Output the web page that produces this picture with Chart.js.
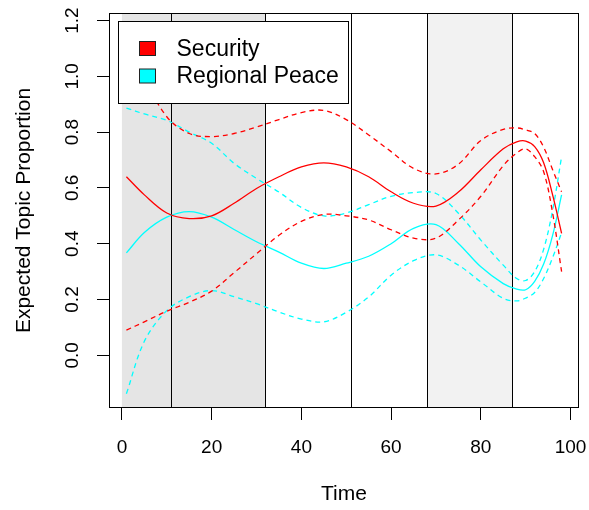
<!DOCTYPE html>
<html>
<head>
<meta charset="utf-8">
<script src="https://cdn.jsdelivr.net/npm/chart.js@4.4.1/dist/chart.umd.min.js"></script>
<style>
  html, body { margin: 0; padding: 0; background: #fff; }
  canvas { display: block; }
</style>
</head>
<body>
<canvas id="chart" width="589" height="510"></canvas>
<script>
// values
const time = [1, 5, 10, 15, 20, 25, 30, 35, 40, 45, 50, 55, 60, 65, 70, 75, 80, 85, 88, 90, 92, 94, 96, 98];

const securityMean  = [0.640, 0.575, 0.510, 0.490, 0.500, 0.545, 0.598, 0.640, 0.675, 0.690, 0.675, 0.640, 0.586, 0.545, 0.535, 0.585, 0.665, 0.740, 0.765, 0.768, 0.748, 0.690, 0.575, 0.437];
const securityUpper = [1.180, 1.000, 0.855, 0.795, 0.784, 0.795, 0.818, 0.845, 0.870, 0.878, 0.845, 0.790, 0.730, 0.670, 0.650, 0.685, 0.770, 0.810, 0.815, 0.808, 0.795, 0.746, 0.665, 0.586];
const securityLower = [0.090, 0.120, 0.158, 0.190, 0.230, 0.296, 0.364, 0.430, 0.480, 0.505, 0.500, 0.485, 0.450, 0.420, 0.420, 0.485, 0.570, 0.680, 0.725, 0.740, 0.712, 0.658, 0.510, 0.300];

const peaceMean  = [0.367, 0.440, 0.495, 0.515, 0.495, 0.451, 0.407, 0.370, 0.330, 0.311, 0.330, 0.355, 0.400, 0.455, 0.468, 0.401, 0.317, 0.257, 0.237, 0.235, 0.265, 0.327, 0.430, 0.575];
const peaceUpper = [0.886, 0.865, 0.842, 0.800, 0.760, 0.688, 0.634, 0.585, 0.530, 0.500, 0.510, 0.540, 0.570, 0.583, 0.580, 0.509, 0.413, 0.323, 0.275, 0.268, 0.300, 0.380, 0.520, 0.712];
const peaceLower = [-0.138, 0.050, 0.160, 0.210, 0.232, 0.210, 0.185, 0.155, 0.130, 0.120, 0.154, 0.209, 0.287, 0.339, 0.360, 0.323, 0.263, 0.204, 0.195, 0.205, 0.225, 0.275, 0.350, 0.440];

const xTicks = [0, 20, 40, 60, 80, 100];
const yTicks = [0, 0.2, 0.4, 0.6, 0.8, 1.0, 1.2];

// period boundaries and shaded periods (in time units)
const periodBreaks = [11, 32, 51, 68, 87];
const shadedSpans = [[0, 32], [68, 87]];

const RED = '#ff0000';
const CYAN = '#00ffff';
const FONT = '"Liberation Sans", Arial, Helvetica, sans-serif';

function series(label, values, color, dashed) {
    return {
        label: label,
        data: values.map((v, i) => ({ x: time[i], y: v })),
        borderColor: color,
        backgroundColor: color,
        borderWidth: 1.3,
        borderDash: dashed ? [5, 4] : [],
        pointRadius: 0,
        fill: false,
        tension: 0.35,
        isBand: dashed
    };
}

// keep the axes from pushing the plot area in for overhanging labels
function noOverhang(s) {
    s.paddingLeft = 0;
    s.paddingRight = 0;
    s.paddingTop = 0;
    s.paddingBottom = 0;
}

// grey period shading + vertical lines, under the curves
const periodsPlugin = {
    id: 'periods',
    beforeDatasetsDraw(chart) {
        const { ctx, chartArea: a, scales: { x } } = chart;
        const shades = ['#e5e5e5', '#f2f2f2'];
        ctx.save();
        shadedSpans.forEach((s, i) => {
            const x0 = x.getPixelForValue(s[0]);
            const x1 = x.getPixelForValue(s[1]);
            ctx.fillStyle = shades[i];
            ctx.fillRect(x0, a.top, x1 - x0, a.bottom - a.top);
        });
        ctx.strokeStyle = '#000';
        ctx.lineWidth = 1;
        periodBreaks.forEach(b => {
            const px = Math.round(x.getPixelForValue(b)) + 0.5;
            ctx.beginPath();
            ctx.moveTo(px, a.top);
            ctx.lineTo(px, a.bottom);
            ctx.stroke();
        });
        ctx.restore();
    }
};

// box round the plot and the legend in the top-left corner
const boxLegendPlugin = {
    id: 'boxLegend',
    afterDatasetsDraw(chart) {
        const { ctx, chartArea: a } = chart;
        ctx.save();
        // legend
        const lx = a.left + 9.5, ly = a.top + 8.5, lw = 230, lh = 82;
        ctx.fillStyle = '#fff';
        ctx.fillRect(lx, ly, lw, lh);
        ctx.strokeStyle = '#000';
        ctx.lineWidth = 1;
        ctx.strokeRect(lx, ly, lw, lh);
        const entries = chart.data.datasets.filter(d => !d.isBand);
        ctx.font = '23px ' + FONT;
        ctx.textBaseline = 'middle';
        ctx.textAlign = 'left';
        entries.forEach((d, i) => {
            const cy = ly + 27 + i * 27.5;
            ctx.fillStyle = d.borderColor;
            ctx.fillRect(lx + 21, cy - 7, 16, 14);
            ctx.strokeStyle = '#222';
            ctx.strokeRect(lx + 21, cy - 7, 16, 14);
            ctx.fillStyle = '#000';
            ctx.fillText(d.label, lx + 58, cy + 1);
        });
        // plot box
        ctx.strokeStyle = '#000';
        ctx.strokeRect(a.left + 0.5, a.top + 0.5, a.right - a.left - 1, a.bottom - a.top - 1);
        ctx.restore();
    }
};

Chart.defaults.font.family = FONT;
Chart.defaults.color = '#000';

new Chart(document.getElementById('chart'), {
    type: 'line',
    data: {
        datasets: [
            series('Security', securityMean, RED, false),
            series('Security upper', securityUpper, RED, true),
            series('Security lower', securityLower, RED, true),
            series('Regional Peace', peaceMean, CYAN, false),
            series('Regional Peace upper', peaceUpper, CYAN, true),
            series('Regional Peace lower', peaceLower, CYAN, true)
        ]
    },
    options: {
        responsive: false,
        animation: false,
        devicePixelRatio: 1,
        layout: { padding: { top: 13, right: 10, left: 0, bottom: 0 } },
        plugins: {
            legend: { display: false },
            tooltip: { enabled: false }
        },
        scales: {
            x: {
                type: 'linear',
                min: -2.88,
                max: 101.88,
                afterBuildTicks: s => { s.ticks = xTicks.map(v => ({ value: v })); },
                afterFit: s => { s.height = 102; noOverhang(s); },
                grid: { drawOnChartArea: false, drawTicks: true, tickLength: 12, color: '#000' },
                border: { display: false },
                ticks: { font: { size: 19 }, padding: 16, maxRotation: 0, callback: v => String(v) },
                title: { display: true, text: 'Time', font: { size: 21 }, padding: { top: 0, bottom: 3 } }
            },
            y: {
                type: 'linear',
                min: -0.189,
                max: 1.227,
                afterBuildTicks: s => { s.ticks = yTicks.map(v => ({ value: v })); },
                afterFit: s => { s.width = 109; noOverhang(s); },
                grid: { drawOnChartArea: false, drawTicks: true, tickLength: 12, color: '#000' },
                border: { display: false },
                ticks: { font: { size: 19 }, padding: 11, minRotation: 90, maxRotation: 90, crossAlign: 'center', callback: v => v.toFixed(1) },
                title: { display: true, text: 'Expected Topic Proportion', font: { size: 21 }, padding: { top: 12, bottom: 0 } }
            }
        }
    },
    plugins: [periodsPlugin, boxLegendPlugin]
});
</script>
</body>
</html>
